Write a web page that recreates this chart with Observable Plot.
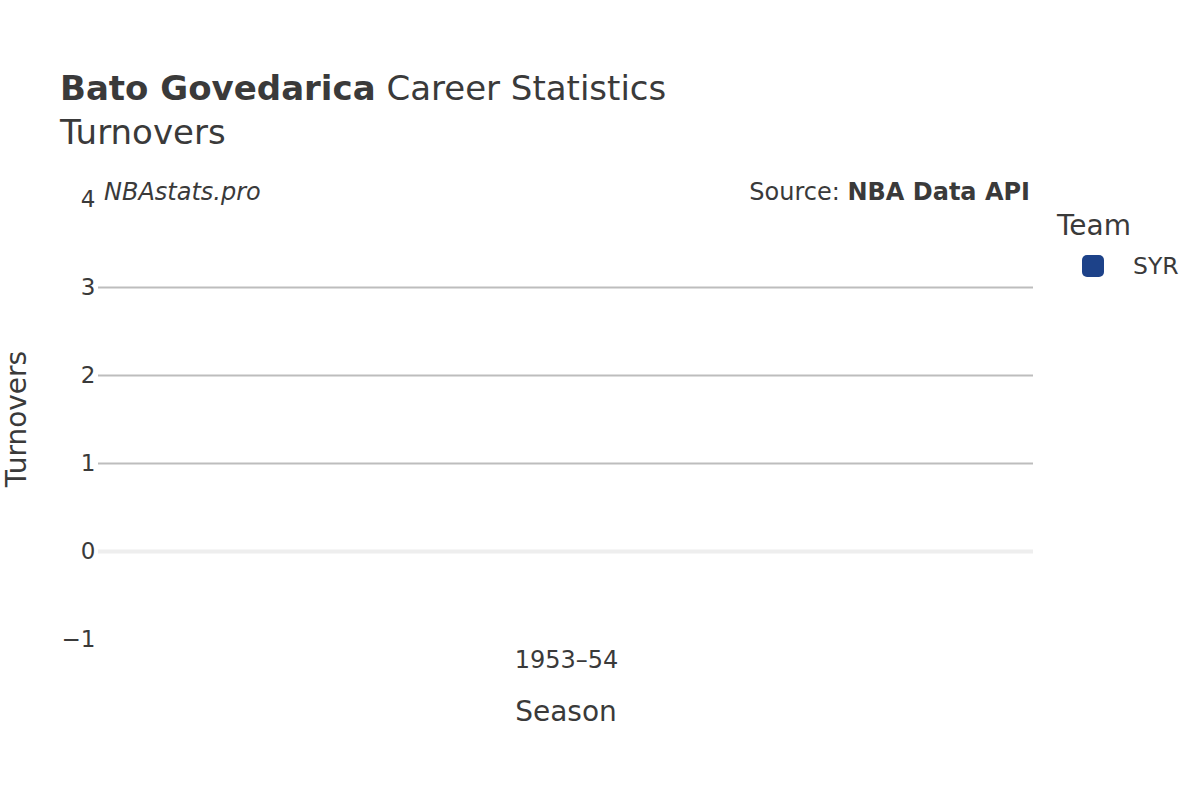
<!DOCTYPE html>
<html>
<head>
<meta charset="utf-8">
<script src="https://cdn.jsdelivr.net/npm/d3@7"></script>
<script src="https://cdn.jsdelivr.net/npm/@observablehq/plot@0.6"></script>
<style>
  html, body { margin: 0; padding: 0; background: #fff; }
  #wrap { position: relative; width: 1200px; height: 800px; font-family: "DejaVu Sans", sans-serif; color: #3a3a3a; overflow: hidden; }
  .abs { position: absolute; white-space: nowrap; }
  #title { left: 60px; top: 68px; font-size: 34px; line-height: 40px; }
  #subtitle { left: 60px; top: 112px; font-size: 34px; line-height: 40px; }
  #plot { position: absolute; left: 0; top: 170px; }
  #wm { left: 104px; top: 177px; font-size: 24px; font-style: italic; line-height: 30px; }
  #src { right: 170px; top: 177px; font-size: 24px; line-height: 30px; }
  #legtitle { left: 1057px; top: 208px; font-size: 28px; line-height: 36px; }
  #legsw { left: 1082px; top: 255px; width: 22px; height: 22px; border-radius: 5px; }
  #leglab { left: 1133px; top: 251px; font-size: 23.5px; line-height: 30px; }
  #xlab { left: 566px; top: 694px; font-size: 28px; line-height: 36px; transform: translateX(-50%); }
  #ylab { left: 17px; top: 419px; font-size: 28px; line-height: 36px; transform: translate(-50%, -50%) rotate(-90deg); }
</style>
</head>
<body>
<div id="wrap">
  <div id="title" class="abs"><b>Bato Govedarica</b> Career Statistics</div>
  <div id="subtitle" class="abs">Turnovers</div>
  <div id="plot"></div>
  <div id="wm" class="abs">NBAstats.pro</div>
  <div id="src" class="abs">Source: <b>NBA Data API</b></div>
  <div id="legtitle" class="abs">Team</div>
  <div id="legsw" class="abs"></div>
  <div id="leglab" class="abs">SYR</div>
  <div id="xlab" class="abs">Season</div>
  <div id="ylab" class="abs">Turnovers</div>
</div>
<script>
const seasons = ["1953–54"];
const teams = ["SYR"];
const turnovers = [null];
const teamColors = ["#1d4289"];
const yTicks = [-1, 0, 1, 2, 3, 4];
const gridValues = [1, 2, 3];

const data = seasons.map((s, i) => ({season: s, team: teams[i], value: turnovers[i]}));

document.getElementById("legsw").style.background = teamColors[0];

const chart = Plot.plot({
  width: 1040,
  height: 580,
  marginLeft: 98,
  marginRight: 7,
  marginTop: 29,
  marginBottom: 111,
  style: { fontFamily: "DejaVu Sans, sans-serif", fontSize: "24px", color: "#3a3a3a", background: "transparent", overflow: "visible" },
  x: { type: "point", domain: seasons, label: null },
  y: { domain: [-1, 4], label: null },
  color: { domain: teams, range: teamColors },
  marks: [
    Plot.ruleY(gridValues, { stroke: "#bdbdbd", strokeWidth: 2 }),
    Plot.ruleY([0], { stroke: "#eeeeee", strokeWidth: 4 }),
    Plot.axisY({ ticks: yTicks, tickSize: 0, tickPadding: 3, tickFormat: d => d < 0 ? "\u2212" + Math.abs(d) : String(d), fontSize: 23, label: null }),
    Plot.axisX({ tickSize: 0, tickPadding: 11, fontSize: 24, label: null }),
    Plot.line(data.filter(d => d.value != null), { x: "season", y: "value", stroke: "team", strokeWidth: 3 }),
    Plot.dot(data.filter(d => d.value != null), { x: "season", y: "value", fill: "team", r: 6 })
  ]
});
document.getElementById("plot").appendChild(chart);
</script>
</body>
</html>
